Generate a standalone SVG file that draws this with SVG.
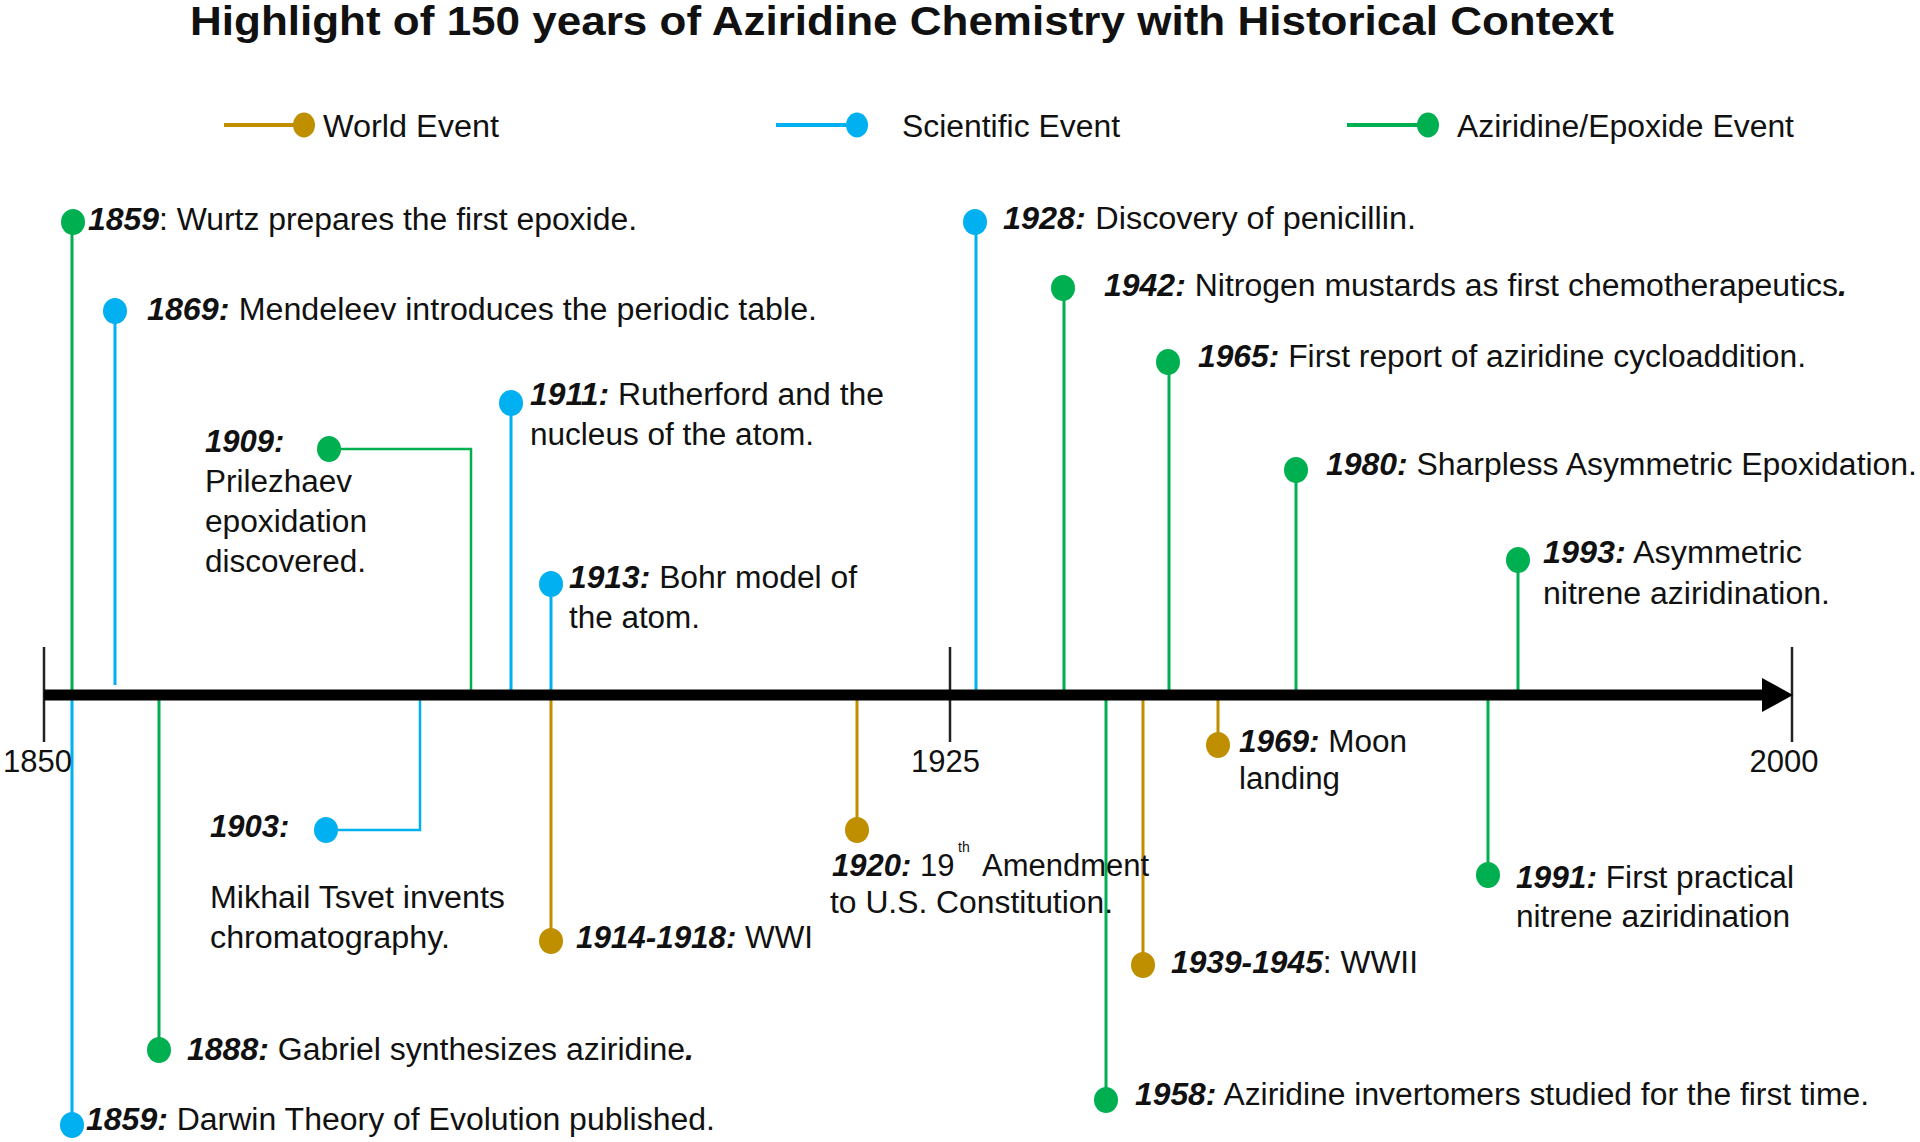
<svg xmlns="http://www.w3.org/2000/svg" width="1920" height="1142" viewBox="0 0 1920 1142">
<style>
text{font-family:"Liberation Sans",Arial,sans-serif;font-size:31px;fill:#111}
.title{font-size:41px;font-weight:bold}
.y{font-weight:bold;font-style:italic}
.tick{font-size:31px}
.g{stroke:#00B050}
.b{stroke:#00B0F0}
.o{stroke:#BF8F00}
.gf{fill:#00B050}
.bf{fill:#00B0F0}
.of{fill:#BF8F00}
.stem{stroke-width:3;fill:none}
.thin{stroke-width:2.5;fill:none}
</style>
<rect width="1920" height="1142" fill="#fff"/>
<text class="title" x="190" y="35" textLength="1424" lengthAdjust="spacingAndGlyphs">Highlight of 150 years of Aziridine Chemistry with Historical Context</text>

<g id="legend">
  <line x1="224" y1="125" x2="304" y2="125" class="o" stroke-width="4"/>
  <ellipse cx="304" cy="125" rx="11" ry="12.5" class="of"/>
  <text x="323" y="137" textLength="176" lengthAdjust="spacingAndGlyphs">World Event</text>
  <line x1="776" y1="125" x2="857" y2="125" class="b" stroke-width="4"/>
  <ellipse cx="857" cy="125" rx="11" ry="12.5" class="bf"/>
  <text x="902" y="137" textLength="218" lengthAdjust="spacingAndGlyphs">Scientific Event</text>
  <line x1="1347" y1="125" x2="1428" y2="125" class="g" stroke-width="4"/>
  <ellipse cx="1428" cy="125" rx="11" ry="12.5" class="gf"/>
  <text x="1457" y="137" textLength="337" lengthAdjust="spacingAndGlyphs">Aziridine/Epoxide Event</text>
</g>

<g id="connectors">
  <line x1="72" y1="222" x2="72" y2="695" class="g stem"/>
  <line x1="115" y1="311" x2="115" y2="685" class="b stem"/>
  <path d="M329,449 H471 V695" class="g thin"/>
  <line x1="511" y1="403" x2="511" y2="695" class="b stem"/>
  <line x1="551" y1="584" x2="551" y2="695" class="b stem"/>
  <line x1="976" y1="222" x2="976" y2="695" class="b stem"/>
  <line x1="1064" y1="288" x2="1064" y2="695" class="g stem"/>
  <line x1="1169" y1="362" x2="1169" y2="695" class="g stem"/>
  <line x1="1296" y1="470" x2="1296" y2="695" class="g stem"/>
  <line x1="1518" y1="560" x2="1518" y2="695" class="g stem"/>
  <line x1="72" y1="695" x2="72" y2="1125" class="b stem"/>
  <line x1="159" y1="695" x2="159" y2="1050" class="g stem"/>
  <path d="M420,695 V830 H326" class="b thin"/>
  <line x1="551" y1="695" x2="551" y2="941" class="o stem"/>
  <line x1="857" y1="695" x2="857" y2="830" class="o stem"/>
  <line x1="1143" y1="695" x2="1143" y2="965" class="o stem"/>
  <line x1="1106" y1="695" x2="1106" y2="1100" class="g stem"/>
  <line x1="1218" y1="695" x2="1218" y2="745" class="o stem"/>
  <line x1="1488" y1="695" x2="1488" y2="875" class="g stem"/>
</g>

<g id="axis">
  <line x1="44" y1="647" x2="44" y2="742" stroke="#222" stroke-width="2.5"/>
  <line x1="950" y1="647" x2="950" y2="742" stroke="#222" stroke-width="2.5"/>
  <line x1="1792" y1="647" x2="1792" y2="742" stroke="#222" stroke-width="2.5"/>
  <line x1="44" y1="695" x2="1766" y2="695" stroke="#000" stroke-width="11"/>
  <polygon points="1762,678 1793,695 1762,712" fill="#000"/>
  <text class="tick" x="37.5" y="772" text-anchor="middle">1850</text>
  <text class="tick" x="945.5" y="772" text-anchor="middle">1925</text>
  <text class="tick" x="1784" y="772" text-anchor="middle">2000</text>
</g>

<g id="e1859-wurtz">
  <ellipse cx="73" cy="222" rx="12" ry="13" class="gf"/>
  <text x="88" y="230" textLength="549" lengthAdjust="spacingAndGlyphs"><tspan class="y">1859</tspan>: Wurtz prepares the first epoxide.</text>
</g>
<g id="e1869">
  <ellipse cx="115" cy="311" rx="12" ry="13" class="bf"/>
  <text x="147" y="320" textLength="670" lengthAdjust="spacingAndGlyphs"><tspan class="y">1869:</tspan><tspan dx="9">Mendeleev introduces the periodic table.</tspan></text>
</g>
<g id="e1909">
  <ellipse cx="329" cy="449" rx="12" ry="13" class="gf"/>
  <text x="205" y="452" class="y">1909:</text>
  <text x="205" y="492" textLength="147" lengthAdjust="spacingAndGlyphs">Prilezhaev</text>
  <text x="205" y="532" textLength="162" lengthAdjust="spacingAndGlyphs">epoxidation</text>
  <text x="205" y="572" textLength="161" lengthAdjust="spacingAndGlyphs">discovered.</text>
</g>
<g id="e1911">
  <ellipse cx="511" cy="403" rx="12" ry="13" class="bf"/>
  <text x="530" y="405" textLength="354" lengthAdjust="spacingAndGlyphs"><tspan class="y">1911:</tspan> Rutherford and the</text>
  <text x="530" y="445" textLength="284" lengthAdjust="spacingAndGlyphs">nucleus of the atom.</text>
</g>
<g id="e1913">
  <ellipse cx="551" cy="584" rx="12" ry="13" class="bf"/>
  <text x="569" y="588" textLength="288" lengthAdjust="spacingAndGlyphs"><tspan class="y">1913:</tspan> Bohr model of</text>
  <text x="569" y="628" textLength="131" lengthAdjust="spacingAndGlyphs">the atom.</text>
</g>
<g id="e1928">
  <ellipse cx="975" cy="222" rx="12" ry="13" class="bf"/>
  <text x="1003" y="229" textLength="413" lengthAdjust="spacingAndGlyphs"><tspan class="y">1928:</tspan><tspan dx="9">Discovery of penicillin.</tspan></text>
</g>
<g id="e1942">
  <ellipse cx="1063" cy="288" rx="12" ry="13" class="gf"/>
  <text x="1104" y="296" textLength="743" lengthAdjust="spacingAndGlyphs"><tspan class="y">1942:</tspan> Nitrogen mustards as first chemotherapeutics<tspan class="y">.</tspan></text>
</g>
<g id="e1965">
  <ellipse cx="1168" cy="362" rx="12" ry="13" class="gf"/>
  <text x="1198" y="367" textLength="608" lengthAdjust="spacingAndGlyphs"><tspan class="y">1965:</tspan> First report of aziridine cycloaddition.</text>
</g>
<g id="e1980">
  <ellipse cx="1296" cy="470" rx="12" ry="13" class="gf"/>
  <text x="1326" y="475" textLength="591" lengthAdjust="spacingAndGlyphs"><tspan class="y">1980:</tspan> Sharpless Asymmetric Epoxidation.</text>
</g>
<g id="e1993">
  <ellipse cx="1518" cy="560" rx="12" ry="13" class="gf"/>
  <text x="1543" y="563" textLength="259" lengthAdjust="spacingAndGlyphs"><tspan class="y">1993:</tspan> Asymmetric</text>
  <text x="1543" y="604" textLength="287" lengthAdjust="spacingAndGlyphs">nitrene aziridination.</text>
</g>
<g id="e1859-darwin">
  <ellipse cx="72" cy="1125" rx="12" ry="13" class="bf"/>
  <text x="86" y="1130" textLength="629" lengthAdjust="spacingAndGlyphs"><tspan class="y">1859:</tspan> Darwin Theory of Evolution published.</text>
</g>
<g id="e1888">
  <ellipse cx="159" cy="1050" rx="12" ry="13" class="gf"/>
  <text x="187" y="1060" textLength="507" lengthAdjust="spacingAndGlyphs"><tspan class="y">1888:</tspan> Gabriel synthesizes aziridine<tspan class="y">.</tspan></text>
</g>
<g id="e1903">
  <ellipse cx="326" cy="830" rx="12" ry="13" class="bf"/>
  <text x="210" y="837" class="y">1903:</text>
  <text x="210" y="908" textLength="295" lengthAdjust="spacingAndGlyphs">Mikhail Tsvet invents</text>
  <text x="210" y="948" textLength="240" lengthAdjust="spacingAndGlyphs">chromatography.</text>
</g>
<g id="e1914">
  <ellipse cx="551" cy="941" rx="12" ry="13" class="of"/>
  <text x="576" y="948" textLength="237" lengthAdjust="spacingAndGlyphs"><tspan class="y">1914-1918:</tspan> WWI</text>
</g>
<g id="e1920">
  <ellipse cx="857" cy="830" rx="12" ry="13" class="of"/>
  <text x="832" y="876"><tspan class="y">1920:</tspan> 19<tspan x="958" y="852" font-size="14">th</tspan><tspan x="982" y="876">Amendment</tspan></text>
  <text x="830" y="913" textLength="283" lengthAdjust="spacingAndGlyphs">to U.S. Constitution.</text>
</g>
<g id="e1939">
  <ellipse cx="1143" cy="965" rx="12" ry="13" class="of"/>
  <text x="1171" y="973" textLength="247" lengthAdjust="spacingAndGlyphs"><tspan class="y">1939-1945</tspan>: WWII</text>
</g>
<g id="e1958">
  <ellipse cx="1106" cy="1100" rx="12" ry="13" class="gf"/>
  <text x="1135" y="1105" textLength="734" lengthAdjust="spacingAndGlyphs"><tspan class="y">1958:</tspan> Aziridine invertomers studied for the first time.</text>
</g>
<g id="e1969">
  <ellipse cx="1218" cy="745" rx="12" ry="13" class="of"/>
  <text x="1239" y="752" textLength="168" lengthAdjust="spacingAndGlyphs"><tspan class="y">1969:</tspan> Moon</text>
  <text x="1239" y="789" textLength="101" lengthAdjust="spacingAndGlyphs">landing</text>
</g>
<g id="e1991">
  <ellipse cx="1488" cy="875" rx="12" ry="13" class="gf"/>
  <text x="1516" y="888" textLength="278" lengthAdjust="spacingAndGlyphs"><tspan class="y">1991:</tspan> First practical</text>
  <text x="1516" y="927" textLength="274" lengthAdjust="spacingAndGlyphs">nitrene aziridination</text>
</g>
</svg>
